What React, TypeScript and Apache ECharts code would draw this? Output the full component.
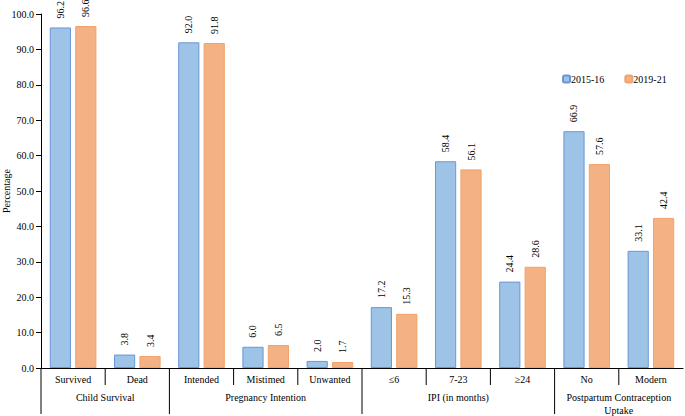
import React, { useEffect, useRef } from "react";
import * as echarts from "echarts";

const categories = ["Survived", "Dead", "Intended", "Mistimed", "Unwanted", "≤6", "7-23", "≥24", "No", "Modern"];
const series2015 = [96.2, 3.8, 92.0, 6.0, 2.0, 17.2, 58.4, 24.4, 66.9, 33.1];
const series2021 = [96.6, 3.4, 91.8, 6.5, 1.7, 15.3, 56.1, 28.6, 57.6, 42.4];
const groupNames = ["Child Survival", "Pregnancy Intention", "IPI (in months)", "Postpartum Contraception\nUptake"];
const groupSizes = [2, 3, 3, 2];
const seriesNames = ["2015-16", "2019-21"];

const FONT = "Times New Roman, Liberation Serif, DejaVu Serif, serif";
const FS = 10;

export default function App() {
  const ref = useRef<HTMLDivElement>(null);
  useEffect(() => {
    document.body.style.margin = "0";
    const chart = echarts.init(ref.current!, null, { renderer: "svg" });
    const label = {
      show: true,
      position: "top",
      rotate: 90,
      align: "left",
      verticalAlign: "middle",
      distance: 9,
      fontFamily: FONT,
      fontSize: FS,
      color: "#000",
      formatter: (p: any) => Number(p.value).toFixed(1),
    };
    chart.setOption({
      animation: false,
      textStyle: { fontFamily: FONT },
      grid: { left: 41, right: 2, top: 14, bottom: 48, containLabel: false, outerBoundsMode: "none" },
      legend: {
        data: seriesNames,
        left: 557,
        top: 69,
        itemWidth: 7,
        itemHeight: 7,
        itemGap: 20,
        textStyle: { fontFamily: FONT, fontSize: FS, color: "#000", padding: [0, 0, 0, -4] },
      },
      xAxis: {
        type: "category",
        data: categories,
        axisLine: { lineStyle: { color: "#000", width: 1 } },
        axisTick: { show: false },
        axisLabel: { fontFamily: FONT, fontSize: FS, color: "#000", margin: 6, interval: 0 },
      },
      yAxis: {
        type: "value",
        min: 0,
        max: 100,
        interval: 10,
        name: "Percentage",
        nameLocation: "middle",
        nameRotate: 90,
        nameGap: 30,
        nameMoveOverlap: false,
        nameTextStyle: { fontFamily: FONT, fontSize: FS, color: "#000" },
        axisLine: { show: true, lineStyle: { color: "#000", width: 1 } },
        axisTick: { show: true, length: 5, lineStyle: { color: "#000" } },
        axisLabel: {
          fontFamily: FONT,
          fontSize: FS,
          color: "#000",
          margin: 7,
          formatter: (v: number) => v.toFixed(1),
        },
        splitLine: { show: false },
      },
      series: [
        {
          name: seriesNames[0],
          type: "bar",
          data: series2015,
          barWidth: "33%",
          barGap: "20%",
          itemStyle: { color: "#9dc3e6", borderColor: "#6b96d6", borderWidth: 1 },
          label,
        },
        {
          name: seriesNames[1],
          type: "bar",
          data: series2021,
          barWidth: "33%",
          itemStyle: { color: "#f4b183", borderColor: "#f0a26c", borderWidth: 1 },
          label,
        },
      ],
    });

    // Build category dividers and group labels from the axis scale
    const p0 = chart.convertToPixel({ xAxisIndex: 0 }, 0) as number;
    const p1 = chart.convertToPixel({ xAxisIndex: 0 }, 1) as number;
    const band = p1 - p0;
    const yZero = chart.convertToPixel({ yAxisIndex: 0 }, 0) as number;
    const boundary = (i: number) => p0 - band / 2 + i * band;
    const groupStarts: number[] = [];
    let acc = 0;
    groupSizes.forEach((s) => {
      groupStarts.push(acc);
      acc += s;
    });
    const elements: any[] = [];
    for (let i = 0; i < categories.length; i++) {
      const isGroupStart = groupStarts.includes(i);
      elements.push({
        type: "line",
        shape: { x1: boundary(i), y1: yZero, x2: boundary(i), y2: yZero + (isGroupStart ? 46 : 17) },
        style: { stroke: "#000", lineWidth: 1 },
        silent: true,
      });
    }
    groupNames.forEach((g, gi) => {
      const start = groupStarts[gi];
      const cx = (boundary(start) + boundary(start + groupSizes[gi])) / 2;
      elements.push({
        type: "text",
        x: cx,
        y: yZero + 23,
        style: {
          text: g,
          fontFamily: FONT,
          fontSize: FS,
          fill: "#000",
          align: "center",
          verticalAlign: "top",
          lineHeight: 13,
        },
        silent: true,
      });
    });
    chart.setOption({ graphic: { elements } });

    return () => chart.dispose();
  }, []);
  return <div ref={ref} style={{ width: 685, height: 416 }} />;
}
